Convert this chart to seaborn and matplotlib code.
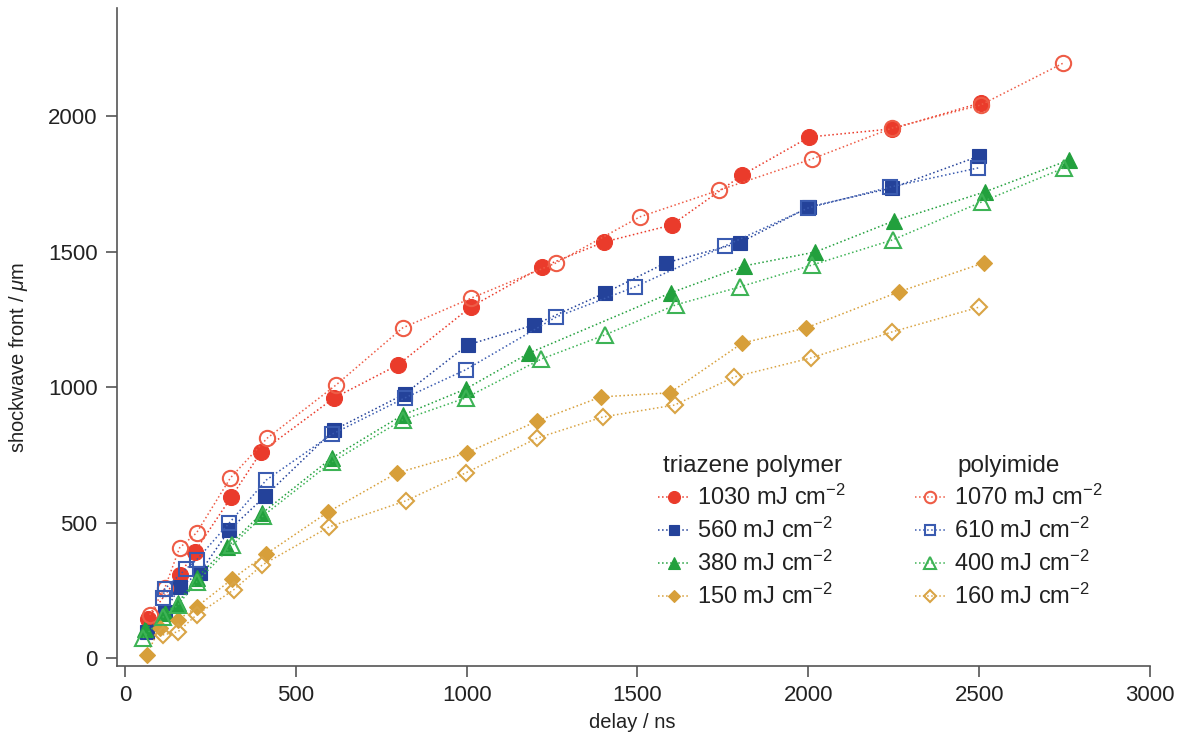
import numpy as np
import pandas as pd
import matplotlib
matplotlib.use("Agg")
import matplotlib.pyplot as plt
import seaborn as sns

# ---------------- data ----------------
tri_1030_x = [67, 160, 204, 312, 399, 612, 799, 1012, 1221, 1402, 1600, 1807, 2003, 2245, 2504]
tri_1030_y = [145, 306, 391, 595, 761, 960, 1082, 1296, 1444, 1536, 1599, 1784, 1924, 1954, 2050]

tri_560_x = [64, 117, 160, 219, 306, 411, 612, 819, 1003, 1198, 1405, 1583, 1799, 2003, 2245, 2501]
tri_560_y = [96, 170, 262, 314, 473, 598, 842, 975, 1156, 1230, 1348, 1459, 1533, 1666, 1736, 1854]

tri_380_x = [60, 117, 155, 210, 300, 402, 606, 813, 997, 1183, 1597, 1813, 2020, 2250, 2516, 2763]
tri_380_y = [105, 166, 203, 295, 410, 535, 739, 897, 993, 1126, 1348, 1448, 1499, 1614, 1721, 1839]

tri_150_x = [64, 102, 155, 210, 315, 414, 595, 796, 1000, 1207, 1393, 1595, 1807, 1994, 2265, 2513]
tri_150_y = [11, 111, 140, 188, 292, 384, 539, 683, 757, 875, 964, 979, 1163, 1219, 1352, 1459]

pi_1070_x = [73, 117, 160, 210, 309, 417, 618, 813, 1014, 1262, 1507, 1740, 2011, 2245, 2504, 2746]
pi_1070_y = [159, 258, 406, 462, 665, 812, 1008, 1219, 1329, 1459, 1629, 1728, 1843, 1957, 2042, 2197]

pi_610_x = [111, 117, 180, 210, 306, 414, 606, 819, 997, 1262, 1492, 1755, 2000, 2239, 2498]
pi_610_y = [222, 255, 330, 362, 499, 657, 826, 960, 1064, 1259, 1370, 1521, 1662, 1739, 1810]

pi_400_x = [53, 111, 155, 210, 315, 405, 606, 813, 997, 1219, 1405, 1612, 1799, 2011, 2247, 2507, 2749]
pi_400_y = [74, 150, 195, 280, 417, 525, 724, 879, 960, 1104, 1193, 1304, 1370, 1451, 1544, 1684, 1810]

pi_160_x = [111, 155, 210, 318, 402, 598, 822, 997, 1207, 1399, 1609, 1784, 2008, 2245, 2501]
pi_160_y = [85, 96, 159, 251, 343, 484, 580, 683, 812, 890, 934, 1038, 1108, 1204, 1296]

tri_labels = ["1030 mJ cm$^{-2}$", "560 mJ cm$^{-2}$", "380 mJ cm$^{-2}$", "150 mJ cm$^{-2}$"]
pi_labels = ["1070 mJ cm$^{-2}$", "610 mJ cm$^{-2}$", "400 mJ cm$^{-2}$", "160 mJ cm$^{-2}$"]
x_ticks = [0, 500, 1000, 1500, 2000, 2500, 3000]
y_ticks = [0, 500, 1000, 1500, 2000]

# ---------------- style ----------------
sns.set_theme(style="white")
plt.rcParams['font.family'] = ['Liberation Sans', 'DejaVu Sans']
plt.rcParams['mathtext.fontset'] = 'custom'
plt.rcParams['mathtext.rm'] = 'Liberation Sans'
plt.rcParams['mathtext.it'] = 'Liberation Sans:italic'

RED = '#EA3B2B'
RED_L = '#EE5C46'
BLUE = '#24429A'
BLUE_L = '#3A5BB0'
GREEN = '#22A03D'
GREEN_L = '#3DB355'
GOLD = '#D79F3A'
GOLD_L = '#D9A445'

fig = plt.figure(figsize=(11.84, 7.40), dpi=100)
ax = fig.add_axes([0.0988, 0.10, 0.8725, 0.889])

series = [
    (tri_1030_x, tri_1030_y, tri_labels[0], RED, 'o', 11.5, True),
    (tri_560_x, tri_560_y, tri_labels[1], BLUE, 's', 10.5, True),
    (tri_380_x, tri_380_y, tri_labels[2], GREEN, '^', 11.5, True),
    (tri_150_x, tri_150_y, tri_labels[3], GOLD, 'D', 8.5, True),
    (pi_1070_x, pi_1070_y, pi_labels[0], RED_L, 'o', 11.0, False),
    (pi_610_x, pi_610_y, pi_labels[1], BLUE_L, 's', 10.5, False),
    (pi_400_x, pi_400_y, pi_labels[2], GREEN_L, '^', 11.0, False),
    (pi_160_x, pi_160_y, pi_labels[3], GOLD_L, 'D', 8.5, False),
]

handles = []
for xs, ys, lab, col, mk, ms, filled in series:
    df = pd.DataFrame({"delay": xs, "front": ys})
    n_before = len(ax.get_lines())
    sns.lineplot(data=df, x="delay", y="front", ax=ax, sort=False, estimator=None,
                 color=col, linestyle=':', linewidth=1.1, marker=mk, markersize=ms,
                 mec=col, mfc=(col if filled else 'none'), mew=(0.8 if filled else 1.5),
                 label=lab, legend=False)
    handles.append(ax.get_lines()[n_before])

ax.set_xlim(-23, 3000)
ax.set_ylim(-30, 2400)
ax.set_xticks(x_ticks)
ax.set_yticks(y_ticks)
ax.tick_params(axis='both', direction='out', length=8, width=1.2, color='#555555',
               labelsize=16, labelcolor='#222222', pad=6,
               bottom=True, left=True)
for side in ['top', 'right']:
    ax.spines[side].set_visible(False)
for side in ['left', 'bottom']:
    ax.spines[side].set_color('#555555')
    ax.spines[side].set_linewidth(1.2)

ax.set_xlabel('delay / ns', fontsize=14.5, color='#222222')
ax.set_ylabel('shockwave front / $\\mu$m', fontsize=14.5, color='#222222')
ax.xaxis.set_label_coords(0.4985, -0.071)
ax.yaxis.set_label_coords(-0.084, 0.468)

leg_kw = dict(frameon=False, fontsize=17, title_fontsize=17.5, handlelength=1.3,
              handletextpad=0.35, labelspacing=0.33, markerscale=0.75,
              borderaxespad=0, borderpad=0, loc='upper left')
leg1 = ax.legend(handles=handles[:4], labels=tri_labels, title='triazene polymer',
                 bbox_to_anchor=(0.524, 0.321), **leg_kw)
ax.add_artist(leg1)
leg2 = ax.legend(handles=handles[4:], labels=pi_labels, title='polyimide',
                 bbox_to_anchor=(0.7725, 0.321), **leg_kw)
for lg in (leg1, leg2):
    for t in lg.get_texts():
        t.set_color('#222222')
    lg.get_title().set_color('#222222')

fig.savefig('out.png', dpi=100)
